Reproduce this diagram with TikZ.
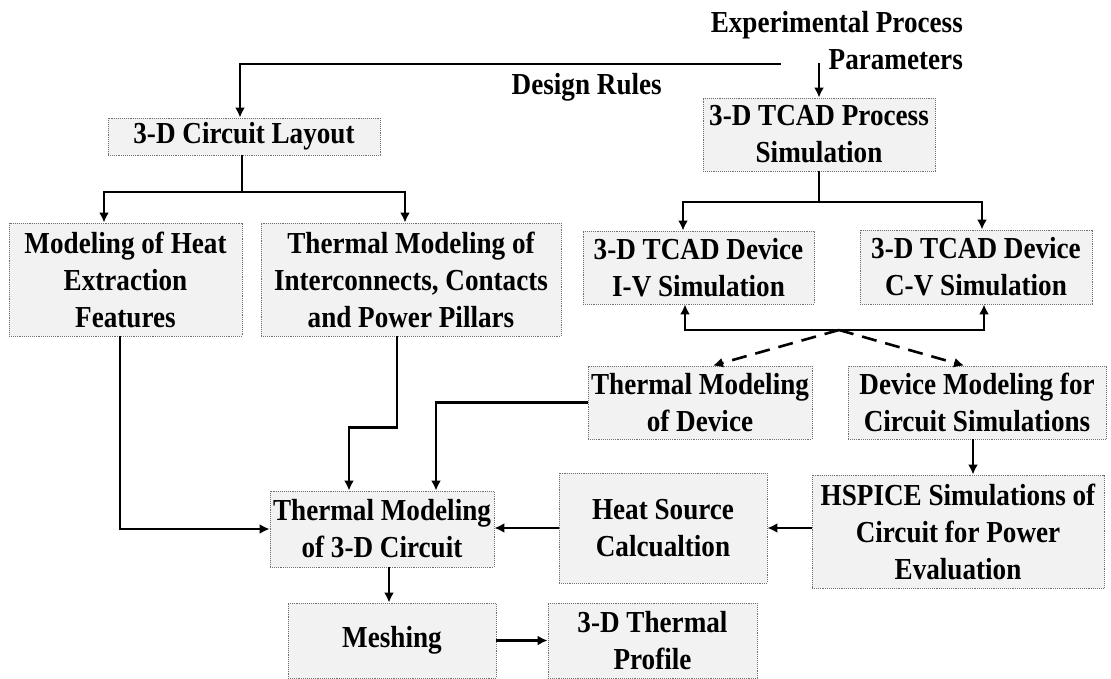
\documentclass[tikz,border=0pt]{standalone}
\usepackage{fontspec}
\setmainfont{Liberation Serif}[FakeStretch=0.89]
\usetikzlibrary{arrows.meta,calc}
\definecolor{boxfill}{HTML}{F2F2F2}
\definecolor{boxline}{HTML}{707070}
\tikzset{
  box/.style={draw=boxline, densely dotted, line width=0.9pt, fill=boxfill,
    inner sep=0pt, align=center, font=\bfseries\fontsize{30.5}{37}\selectfont},
  lbl/.style={inner sep=0pt, font=\bfseries\fontsize{30.5}{37}\selectfont},
  conn/.style={line width=2.6pt, black},
  arr/.style={conn, -{Latex[length=10pt,width=10pt]}},
  darr/.style={arr, dash pattern=on 15pt off 9pt},
}
\begin{document}
\begin{tikzpicture}[x=1pt,y=-1pt]
\useasboundingbox (0,0) rectangle (1111,679);

% boxes
\node[box, minimum width=272, minimum height=37] (layout) at (244,136.5) {3-D Circuit Layout};
\node[box, minimum width=232, minimum height=73] (process) at (819,134.5) {3-D TCAD Process\\Simulation};
\node[box, minimum width=233, minimum height=113] (heat) at (125.5,279.5) {Modeling of Heat\\Extraction\\Features};
\node[box, minimum width=300, minimum height=113] (inter) at (411,279.5) {Thermal Modeling of\\Interconnects, Contacts\\and Power Pillars};
\node[box, minimum width=231, minimum height=73] (iv) at (698.5,267.5) {3-D TCAD Device\\I-V Simulation};
\node[box, minimum width=232, minimum height=74] (cv) at (976,267) {3-D TCAD Device\\C-V Simulation};
\node[box, minimum width=224, minimum height=73] (tdev) at (700,402.5) {Thermal Modeling\\of Device};
\node[box, minimum width=258, minimum height=73] (dmod) at (977,402.5) {Device Modeling for\\Circuit Simulations};
\node[box, minimum width=292, minimum height=113] (hspice) at (958,531.5) {HSPICE Simulations of\\Circuit for Power\\Evaluation};
\node[box, minimum width=208, minimum height=110] (heatsrc) at (663,528) {Heat Source\\Calcualtion};
\node[box, minimum width=224, minimum height=76] (t3d) at (382,529) {Thermal Modeling\\of 3-D Circuit};
\node[box, minimum width=208, minimum height=75] (mesh) at (392,640.5) {Meshing};
\node[box, minimum width=209, minimum height=75] (profile) at (652.5,640.5) {3-D Thermal\\Profile};

% free labels
\node[lbl, anchor=base east] (epp1) at (963,33) {Experimental Process};
\node[lbl, anchor=base east] (epp2) at (963,70) {Parameters};
\node[lbl, anchor=base east] (drl) at (662,95) {Design Rules};

% connectors
\coordinate (drs) at (781,64);
\draw[arr] (drs) -| ([xshift=-4]layout.north);
\coordinate (epps) at (819,63);
\draw[arr] (epps) -- (process.north);

\coordinate (pf) at (819,202);
\draw[conn] (process.south) -- (pf);
\draw[arr] (pf) -| ([xshift=-15.5]iv.north);
\draw[arr] (pf) -| ([xshift=6]cv.north);

\coordinate (lf) at (242,192);
\draw[conn] ([xshift=-2]layout.south) -- (lf);
\draw[arr] (lf) -| ([xshift=-21.5]heat.north);
\draw[arr] (lf) -| ([xshift=-6]inter.north);

\coordinate (hub) at (839,330);
\draw[arr] (hub) -| ([xshift=-13.5]iv.south);
\draw[arr] (hub) -| ([xshift=8]cv.south);
\draw[darr] (hub) -- ([xshift=13]tdev.north);
\draw[darr] (hub) -- ([xshift=-13]dmod.north);

\draw[arr] ([xshift=-4]dmod.south) -- ([xshift=-4]dmod.south |- hspice.north);
\draw[arr] (hspice.west |- heatsrc.east) -- (heatsrc.east);
\draw[arr] (heatsrc.west) -- (heatsrc.west -| t3d.east);
\draw[arr] ([xshift=-5.5]heat.south) |- (t3d.west);
\draw[arr] ([xshift=-14]inter.south) -- ++(0,91) -| ([xshift=-33]t3d.north);
\draw[arr] (tdev.west) -| ([xshift=54]t3d.north);
\draw[arr] ([xshift=7]t3d.south) -- ([xshift=7]t3d.south |- mesh.north);
\draw[arr] (mesh.east) -- (profile.west);
\end{tikzpicture}
\end{document}
